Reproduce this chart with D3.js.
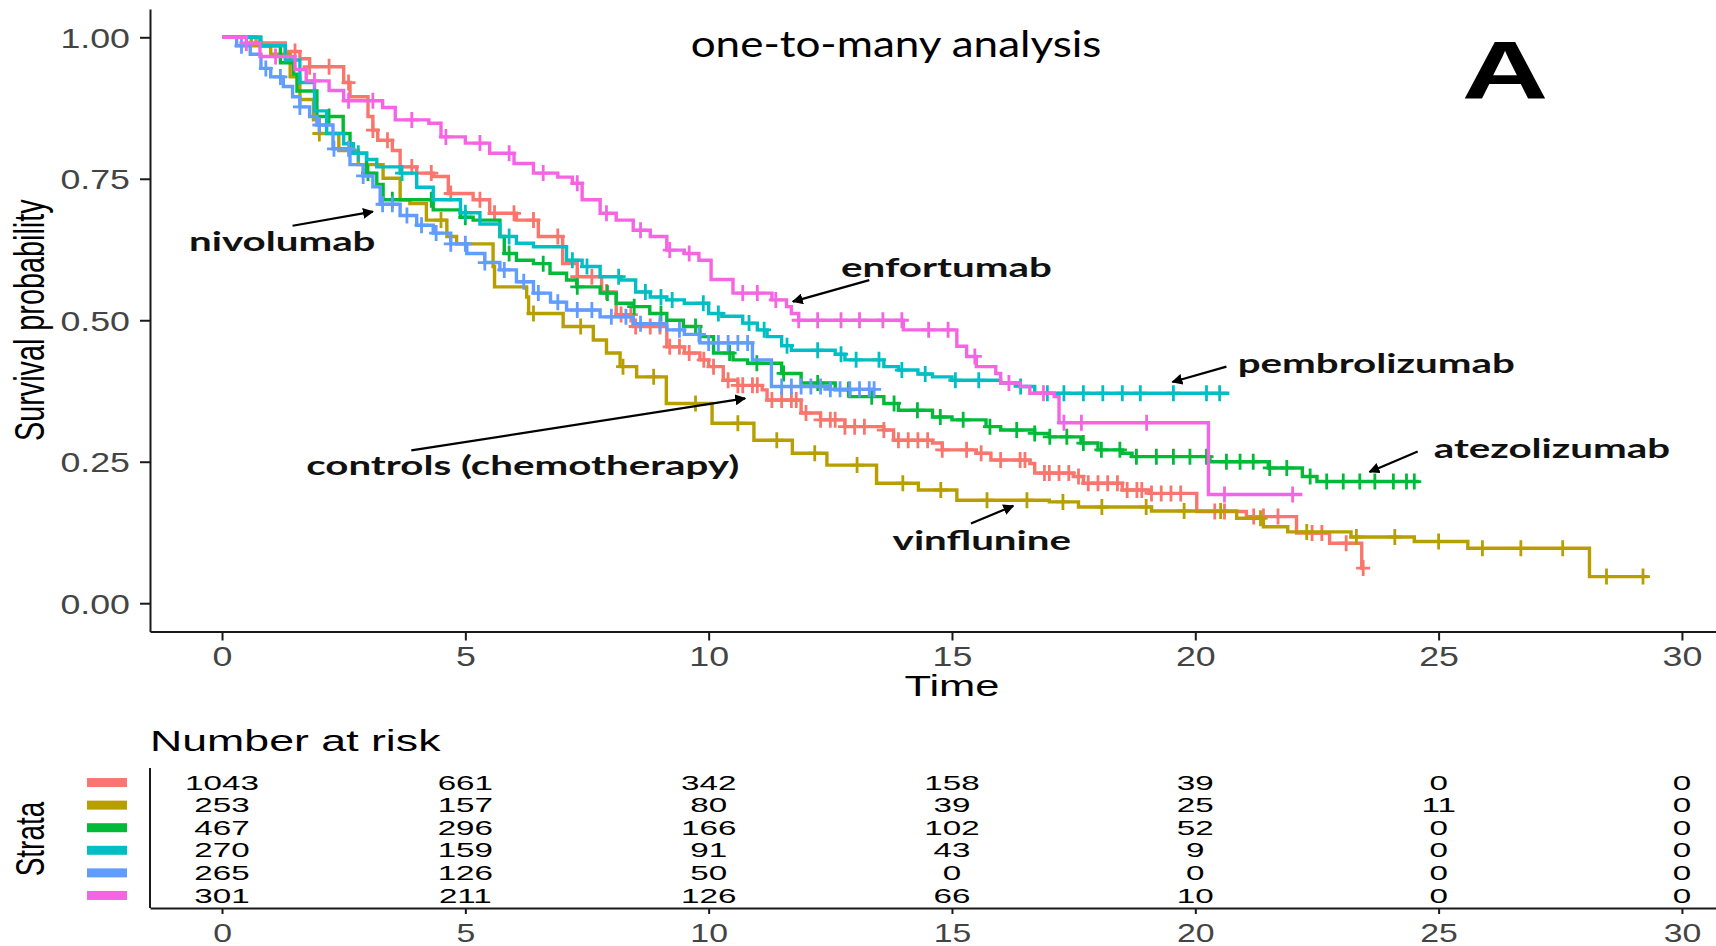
<!DOCTYPE html>
<html>
<head>
<meta charset="utf-8">
<script src="https://cdn.jsdelivr.net/npm/d3@7"></script>
<style>
  body { margin: 0; background: #fff; }
  svg { display: block; }
  .axis path, .axis line { stroke: #1a1a1a; stroke-width: 2; }
  .axis text { font-family: "Liberation Sans", Arial, sans-serif; fill: #444; }
</style>
</head>
<body>
<svg id="km-chart" width="1716" height="946"></svg>
<script>
// strata in the order used by the plot and the risk table
const strata = ["controls (chemotherapy)", "vinflunine", "atezolizumab", "pembrolizumab", "nivolumab", "enfortumab"];
const strataColors = ["#F8766D", "#B79F00", "#00BA38", "#00BFC4", "#619CFF", "#F564E3"];

// Kaplan-Meier steps [time, survival after the drop]
const stepsControls = [[0,1],[0.7,0.99],[1.3,0.975],[1.6,0.962],[1.8,0.948],[2.5,0.92],[2.63,0.895],[3.0,0.86],[3.1,0.836],[3.2,0.818],[3.5,0.8],[3.66,0.771],[4.0,0.76],[4.34,0.754],[4.65,0.724],[5.16,0.713],[5.5,0.689],[6.05,0.677],[6.5,0.648],[7.0,0.6],[7.3,0.577],[7.8,0.55],[8.1,0.51],[8.45,0.489],[9.14,0.453],[9.5,0.442],[9.82,0.43],[10.0,0.418],[10.3,0.394],[10.6,0.385],[11.1,0.377],[11.2,0.359],[11.9,0.336],[12.3,0.324],[12.8,0.312],[13.6,0.306],[13.8,0.288],[14.6,0.283],[14.8,0.271],[15.5,0.265],[15.8,0.253],[16.6,0.247],[16.7,0.23],[17.5,0.224],[17.7,0.212],[18.5,0.2],[19.06,0.194],[20.03,0.162],[21.05,0.153],[22.08,0.124],[22.76,0.106],[23.42,0.062]];
const stepsVinflunine = [[0,1],[0.6,0.985],[1.0,0.97],[1.4,0.93],[1.6,0.89],[1.88,0.854],[2.0,0.83],[2.4,0.8],[2.8,0.775],[3.31,0.751],[3.66,0.713],[3.86,0.706],[4.2,0.677],[4.62,0.648],[4.82,0.635],[5.57,0.595],[5.6,0.559],[6.26,0.541],[6.3,0.512],[7.01,0.489],[7.63,0.465],[7.9,0.442],[8.18,0.418],[8.52,0.4],[9.13,0.353],[10.07,0.318],[10.93,0.288],[11.72,0.265],[12.43,0.244],[13.45,0.212],[14.31,0.2],[15.1,0.182],[17.0,0.179],[17.6,0.17],[19.1,0.163],[20.85,0.15],[21.4,0.135],[21.9,0.126],[23.2,0.117],[24.5,0.109],[25.6,0.097],[28.1,0.047]];
const stepsAtezolizumab = [[0,1],[0.78,0.985],[1.2,0.955],[1.47,0.935],[1.54,0.905],[1.95,0.86],[2.49,0.83],[2.63,0.795],[2.97,0.76],[3.18,0.74],[3.31,0.713],[4.34,0.695],[4.9,0.682],[5.16,0.677],[5.71,0.648],[5.8,0.618],[6.05,0.606],[6.4,0.6],[6.74,0.583],[7.08,0.571],[7.29,0.559],[7.77,0.548],[8.1,0.53],[8.45,0.524],[8.79,0.512],[9.14,0.5],[9.48,0.489],[9.82,0.471],[10.1,0.442],[10.5,0.43],[10.8,0.424],[11.5,0.406],[11.9,0.389],[12.6,0.377],[12.9,0.365],[13.6,0.353],[13.9,0.341],[14.6,0.329],[15.0,0.324],[15.7,0.312],[16.0,0.306],[16.7,0.3],[17.0,0.294],[17.65,0.283],[18.0,0.271],[18.5,0.265],[18.7,0.259],[20.3,0.25],[21.5,0.239],[22.2,0.224],[22.5,0.215]];
const stepsPembrolizumab = [[0,1],[0.8,0.985],[1.3,0.96],[1.6,0.92],[1.9,0.87],[2.15,0.83],[2.5,0.812],[2.7,0.795],[2.97,0.784],[3.18,0.771],[3.66,0.76],[4.0,0.735],[4.34,0.713],[4.9,0.69],[5.3,0.67],[5.71,0.648],[6.05,0.636],[6.4,0.63],[7.08,0.606],[7.4,0.595],[7.77,0.577],[8.2,0.571],[8.5,0.55],[8.8,0.541],[9.14,0.536],[9.5,0.53],[10.0,0.512],[10.27,0.507],[10.7,0.495],[11.0,0.483],[11.2,0.471],[11.5,0.455],[11.7,0.447],[12.6,0.44],[12.8,0.43],[13.6,0.418],[13.9,0.412],[14.3,0.405],[14.6,0.4],[15.0,0.394],[16.0,0.389],[16.4,0.383],[16.7,0.371]];
const stepsNivolumab = [[0,1],[0.3,0.985],[0.58,0.97],[0.8,0.945],[1.0,0.93],[1.26,0.913],[1.45,0.895],[1.6,0.877],[1.8,0.86],[1.95,0.845],[2.28,0.803],[2.63,0.775],[2.9,0.755],[3.1,0.736],[3.25,0.705],[3.66,0.685],[4.0,0.668],[4.34,0.654],[4.7,0.635],[5.03,0.618],[5.4,0.602],[5.71,0.589],[6.05,0.568],[6.4,0.548],[6.75,0.532],[7.08,0.518],[7.77,0.506],[8.45,0.494],[9.14,0.483],[9.5,0.475],[9.82,0.46],[10.9,0.43],[11.29,0.383],[12.5,0.378]];
const stepsEnfortumab = [[0,1],[0.5,0.99],[0.78,0.966],[1.5,0.943],[1.73,0.923],[2.2,0.906],[2.5,0.888],[3.3,0.876],[3.56,0.854],[4.25,0.848],[4.5,0.824],[5.0,0.813],[5.5,0.795],[6.0,0.777],[6.4,0.76],[6.9,0.753],[7.2,0.742],[7.4,0.713],[7.77,0.689],[8.1,0.677],[8.45,0.659],[8.8,0.648],[9.14,0.624],[9.5,0.618],[9.8,0.606],[10.05,0.572],[10.5,0.548],[11.3,0.536],[11.6,0.524],[11.7,0.512],[11.85,0.5],[14.0,0.483],[15.1,0.454],[15.3,0.436],[15.5,0.418],[15.9,0.406],[16.0,0.389],[16.4,0.383],[16.6,0.371],[17.1,0.365],[17.2,0.319],[20.27,0.192]];

// last follow-up time of each stratum
const lastTime = [23.45, 29.3, 24.6, 20.7, 13.4, 22.2];

// censoring times (marked with +)
const censorControls = [1.5,1.8,2.2,2.6,3.1,3.4,3.9,4.3,4.7,5.3,5.6,6.0,6.4,6.9,7.3,7.6,7.9,8.2,8.4,8.5,8.8,9.0,9.2,9.4,9.6,9.9,10.1,10.4,10.6,10.7,10.9,11.0,11.3,11.5,11.7,11.8,12.0,12.3,12.5,12.6,12.8,13.0,13.2,13.6,13.9,14.1,14.3,14.5,14.8,15.3,15.6,16.0,16.4,16.5,16.9,17.0,17.2,17.4,17.6,17.8,18.0,18.2,18.4,18.6,18.8,18.9,19.1,19.3,19.5,19.7,20.4,20.6,21.2,21.4,21.7,22.4,22.6,23.1,23.45];
const censorVinflunine = [2.0,4.5,6.4,7.37,8.24,8.87,9.73,10.6,11.4,12.18,13.05,13.99,14.77,15.72,16.54,17.28,18.08,18.99,19.77,20.52,21.34,22.29,23.31,24.1,25.0,25.9,26.69,27.55,28.45,29.2];
const censorAtezolizumab = [2.2,3.0,3.5,4.3,5.0,5.9,6.6,7.3,7.92,8.47,9.02,9.73,10.43,10.99,11.54,12.24,12.87,13.35,13.81,14.29,14.76,15.23,15.78,16.33,16.7,17.01,17.36,17.7,18.07,18.45,18.79,19.2,19.55,19.89,20.23,20.64,20.92,21.19,21.53,21.88,22.36,22.7,23.04,23.38,23.69,24.07,24.34,24.5];
const censorPembrolizumab = [2.8,3.7,5.0,5.9,7.2,7.5,8.15,8.7,9.02,9.25,9.89,10.2,10.83,11.14,11.61,12.24,12.72,13.03,13.5,13.97,14.45,15.07,15.55,16.41,16.96,17.3,17.7,18.1,18.5,18.87,19.55,20.23,20.5];
const censorNivolumab = [0.4,0.9,1.2,1.6,2.0,2.3,2.6,2.9,3.3,3.5,3.8,4.1,4.4,4.7,5.0,5.4,5.8,6.2,6.5,6.9,7.3,7.6,8.0,8.3,8.6,9.0,9.4,9.8,10.0,10.2,10.4,10.6,10.8,11.5,11.7,11.9,12.1,12.3,12.5,12.7,12.9,13.1,13.3,13.4];
const censorEnfortumab = [0.5,1.1,1.9,2.6,3.1,3.9,4.6,5.3,5.9,6.6,7.3,7.9,8.6,9.2,9.6,10.7,11.0,11.38,11.85,12.24,12.72,13.1,13.58,13.97,14.52,14.92,15.47,16.17,16.88,17.3,17.66,19.0,20.6,22.0];

// number at risk table
const riskTimes = [0, 5, 10, 15, 20, 25, 30];
const riskControls = [1043, 661, 342, 158, 39, 0, 0];
const riskVinflunine = [253, 157, 80, 39, 25, 11, 0];
const riskAtezolizumab = [467, 296, 166, 102, 52, 0, 0];
const riskPembrolizumab = [270, 159, 91, 43, 9, 0, 0];
const riskNivolumab = [265, 126, 50, 0, 0, 0, 0];
const riskEnfortumab = [301, 211, 126, 66, 10, 0, 0];

const yTicks = [0, 0.25, 0.5, 0.75, 1];
const xTicks = [0, 5, 10, 15, 20, 25, 30];

// arrow annotations, in data units (time, survival)
const annotations = [
    { label: "nivolumab", at: [-0.68, 0.623], from: [1.45, 0.667], to: [3.10, 0.692] },
    { label: "enfortumab", at: [12.72, 0.577], from: [13.30, 0.571], to: [11.73, 0.533] },
    { label: "pembrolizumab", at: [20.87, 0.406], from: [20.64, 0.418], to: [19.53, 0.391] },
    { label: "atezolizumab", at: [24.9, 0.256], from: [24.57, 0.268], to: [23.58, 0.232] },
    { label: "controls (chemotherapy)", at: [1.73, 0.226], from: [3.89, 0.270], to: [10.75, 0.362] },
    { label: "vinflunine", at: [13.78, 0.094], from: [15.39, 0.141], to: [16.26, 0.172] }
];

// ---------------------------------------------------------------
const allSteps = [stepsControls, stepsVinflunine, stepsAtezolizumab, stepsPembrolizumab, stepsNivolumab, stepsEnfortumab];
const allCensor = [censorControls, censorVinflunine, censorAtezolizumab, censorPembrolizumab, censorNivolumab, censorEnfortumab];
const allRisk = [riskControls, riskVinflunine, riskAtezolizumab, riskPembrolizumab, riskNivolumab, riskEnfortumab];

const series = strata.map((name, i) => ({
    name,
    color: strataColors[i],
    steps: allSteps[i],
    last: lastTime[i],
    censor: allCensor[i],
    risk: allRisk[i]
}));

const S = 1.45; // the source figure is stretched horizontally
const sansFont = '"Liberation Sans", Arial, sans-serif';

const svg = d3.select("#km-chart");

// scales
const x = d3.scaleLinear().domain([-1.48, 30.7]).range([150, 1716]);
const y = d3.scaleLinear().domain([-0.05, 1.05]).range([631.5, 9]);

const bisect = d3.bisector(d => d[0]).right;
const survAt = (steps, t) => steps[Math.max(0, bisect(steps, t) - 1)][1];

// axes of the survival plot
const gY = svg.append("g")
    .attr("class", "axis")
    .attr("transform", `translate(${x.range()[0]},0)`)
    .call(d3.axisLeft(y).tickValues(yTicks).tickFormat(d3.format(".2f")).tickSize(10).tickSizeOuter(0));
gY.selectAll(".tick text")
    .attr("x", 0).attr("dy", "0.36em")
    .attr("transform", "translate(-20,0) scale(1.3,1)")
    .style("font-size", "27.5px");

const gX = svg.append("g")
    .attr("class", "axis")
    .attr("transform", `translate(0,${y.range()[0]})`)
    .call(d3.axisBottom(x).tickValues(xTicks).tickSize(9).tickSizeOuter(0));
gX.selectAll(".tick text")
    .attr("y", 0).attr("dy", null)
    .attr("transform", "translate(0,34.5) scale(1.3,1)")
    .style("font-size", "27.5px");

// axis titles
svg.append("text")
    .attr("transform", `translate(${x(15)},696) scale(${S},1)`)
    .attr("text-anchor", "middle")
    .style("font-family", sansFont).style("font-size", "30px").attr("fill", "#000")
    .text("Time");

svg.append("text")
    .attr("transform", `translate(44,${y(0.5)}) scale(${S},1) rotate(-90)`)
    .attr("text-anchor", "middle")
    .style("font-family", sansFont).style("font-size", "28.8px").attr("fill", "#000")
    .text("Survival probability");

// survival curves
const line = d3.line()
    .x(d => x(d[0]))
    .y(d => y(d[1]))
    .curve(d3.curveStepAfter);

const gCurves = svg.append("g");
series.forEach(s => {
    const pts = s.steps.concat([[s.last, s.steps[s.steps.length - 1][1]]]);
    const g = gCurves.append("g");
    g.append("path")
        .attr("d", line(pts))
        .attr("fill", "none")
        .attr("stroke", s.color)
        .attr("stroke-width", 3.4);
    g.selectAll("path.censor")
        .data(s.censor)
        .join("path")
        .attr("class", "censor")
        .attr("transform", t => `translate(${x(t)},${y(survAt(s.steps, t))})`)
        .attr("d", "M-7,0H7M0,-8V8")
        .attr("stroke", s.color)
        .attr("stroke-width", 2.8)
        .attr("fill", "none");
});

// annotations
svg.append("defs").append("marker")
    .attr("id", "arrow")
    .attr("viewBox", "0 0 10 10")
    .attr("refX", 9).attr("refY", 5)
    .attr("markerWidth", 5).attr("markerHeight", 5)
    .attr("orient", "auto")
    .append("path")
    .attr("d", "M0,0L10,5L0,10z")
    .attr("fill", "#000");

const gAnn = svg.append("g");
annotations.forEach(a => {
    gAnn.append("line")
        .attr("x1", x(a.from[0])).attr("y1", y(a.from[1]))
        .attr("x2", x(a.to[0])).attr("y2", y(a.to[1]))
        .attr("stroke", "#000").attr("stroke-width", 2.2)
        .attr("marker-end", "url(#arrow)");
    gAnn.append("text")
        .attr("transform", `translate(${x(a.at[0])},${y(a.at[1])}) scale(1.55,1)`)
        .style("font-family", "Lato, 'Open Sans', sans-serif")
        .style("font-weight", "700")
        .style("font-size", "26px")
        .attr("fill", "#111")
        .text(a.label);
});

// title and panel letter
svg.append("text")
    .attr("transform", "translate(896,57) scale(1.19,1)")
    .attr("text-anchor", "middle")
    .style("font-family", "Lato, 'Open Sans', sans-serif")
    .style("font-size", "37px")
    .attr("fill", "#000")
    .text("one-to-many analysis");

svg.append("text")
    .attr("transform", "translate(1505,98) scale(1.48,1)")
    .attr("text-anchor", "middle")
    .style("font-family", sansFont)
    .style("font-weight", "700")
    .style("font-size", "81px")
    .attr("fill", "#000")
    .text("A");

// ---------------- number at risk table ----------------
const yRisk = d3.scalePoint().domain(strata).range([769, 909]).padding(0.6);

svg.append("text")
    .attr("transform", `translate(${x.range()[0]},751) scale(1.49,1)`)
    .style("font-family", sansFont).style("font-size", "30px").attr("fill", "#000")
    .text("Number at risk");

const gRiskX = svg.append("g")
    .attr("class", "axis")
    .attr("transform", "translate(0,908)")
    .call(d3.axisBottom(x).tickValues(riskTimes).tickSize(6).tickSizeOuter(0));
gRiskX.selectAll(".tick text")
    .attr("y", 0).attr("dy", null)
    .attr("transform", "translate(0,34) scale(1.3,1)")
    .style("font-size", "26px");

svg.append("line")
    .attr("x1", x.range()[0]).attr("x2", x.range()[0])
    .attr("y1", 768).attr("y2", 908)
    .attr("stroke", "#1a1a1a").attr("stroke-width", 2);

const gRisk = svg.append("g");
series.forEach(s => {
    gRisk.selectAll(null)
        .data(riskTimes.map((t, j) => ({ t, n: s.risk[j] })))
        .join("text")
        .attr("transform", d => `translate(${x(d.t)},${yRisk(s.name)}) scale(1.66,1)`)
        .attr("dy", "0.36em")
        .attr("text-anchor", "middle")
        .style("font-family", sansFont).style("font-size", "20px")
        .attr("fill", "#000")
        .text(d => d.n);
    gRisk.append("rect")
        .attr("x", 87).attr("width", 40)
        .attr("y", yRisk(s.name) - 4.5).attr("height", 9)
        .attr("fill", s.color);
});

svg.append("text")
    .attr("transform", `translate(44,${(yRisk.range()[0] + yRisk.range()[1]) / 2}) scale(${S},1) rotate(-90)`)
    .attr("text-anchor", "middle")
    .style("font-family", sansFont).style("font-size", "28px").attr("fill", "#000")
    .text("Strata");
</script>
</body>
</html>
